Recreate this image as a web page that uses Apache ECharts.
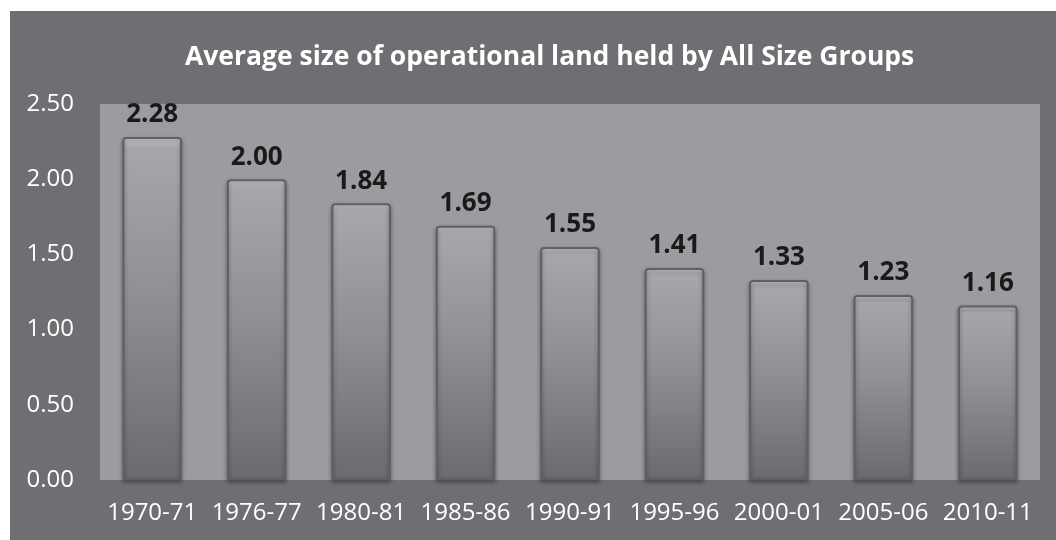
<!DOCTYPE html>
<html><head><meta charset="utf-8">
<script src="https://cdn.jsdelivr.net/npm/echarts@6/dist/echarts.min.js"></script>
<style>
html,body{margin:0;padding:0;background:#ffffff;width:1056px;height:540px;overflow:hidden;}
#c{position:absolute;left:10px;top:11px;width:1046px;height:529px;}
</style></head>
<body><div id="c"></div>
<script>
const categories = ['1970-71','1976-77','1980-81','1985-86','1990-91','1995-96','2000-01','2005-06','2010-11'];
const values = [2.28, 2.00, 1.84, 1.69, 1.55, 1.41, 1.33, 1.23, 1.16];
const chartTitle = 'Average size of operational land held by All Size Groups';

const chart = echarts.init(document.getElementById('c'), null, {renderer:'canvas'});
const font = '"Open Sans", "Noto Sans", sans-serif';
chart.setOption({
  backgroundColor: '#6e6f72',
  animation: false,
  title: {
    text: chartTitle, left: 170, top: 28,
    textStyle: {color:'#ffffff', fontSize: 26.5, fontWeight:'bold', fontFamily: font}
  },
  grid: {left: 90, right: 16, top: 93, bottom: 60, show: true, backgroundColor: '#9b9c9f', borderWidth: 0},
  xAxis: {
    type: 'category', data: categories,
    axisLine: {show:false}, axisTick: {show:false},
    axisLabel: {color:'#ffffff', fontSize: 24, fontFamily: font, margin: 21, interval: 0, hideOverlap: false}
  },
  yAxis: {
    type: 'value', min: 0, max: 2.5, interval: 0.5,
    splitLine: {show:false}, axisLine:{show:false}, axisTick:{show:false},
    axisLabel: {color:'#ffffff', fontSize: 24, fontFamily: font, margin: 26,
      formatter: v => v.toFixed(2)}
  },
  series: [{
    type: 'bar', data: values, barWidth: '57%',
    itemStyle: {
      color: new echarts.graphic.LinearGradient(0,0,0,1,[
        {offset:0, color:'#d0d1d3'},
        {offset:0.03, color:'#a6a7aa'},
        {offset:0.45, color:'#909194'},
        {offset:1, color:'#6a6b6e'}
      ]),
      borderColor: '#5f6063', borderWidth: 2, borderRadius: [3,3,0,0],
      shadowColor: 'rgba(0,0,0,0.35)', shadowBlur: 4, shadowOffsetY: 2
    },
    label: {
      show: true, position: 'top', distance: 9,
      color:'#1a1a1a', fontSize: 26, fontWeight:'bold', fontFamily: font,
      formatter: p => p.value.toFixed(2)
    }
  }]
});
</script></body></html>
